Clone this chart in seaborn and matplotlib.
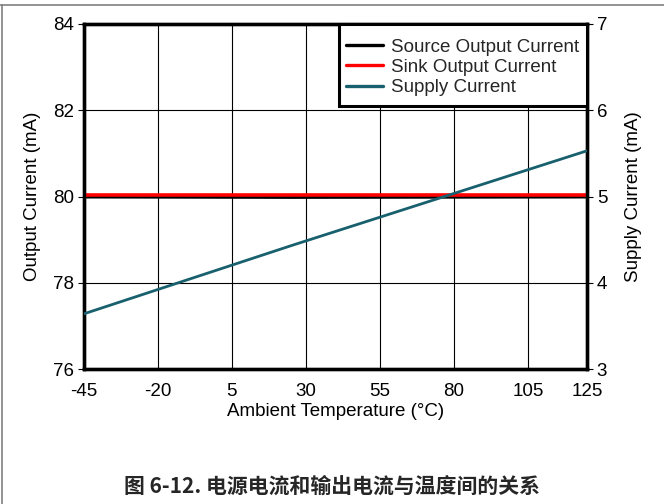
import numpy as np
import pandas as pd
import matplotlib
matplotlib.use("Agg")
import matplotlib.pyplot as plt
from matplotlib.lines import Line2D
from matplotlib.patches import Rectangle
import seaborn as sns

# Ambient temperature sweep (°C)
temperature = [-45, 25, 125]
# Output currents (mA), left axis
source_current = [79.99, 79.98, 79.99]
sink_current = [80.03, 80.03, 80.03]
# Supply current (mA), right axis
supply_current = [3.64, 4.43, 5.53]

x_ticks = [-45, -20, 5, 30, 55, 80, 105, 125]
left_ticks = [76, 78, 80, 82, 84]
right_ticks = [3, 4, 5, 6, 7]

sns.set_theme(style="white")
plt.rcParams["font.family"] = ["Liberation Sans", "DejaVu Sans"]
plt.rcParams["axes.unicode_minus"] = False

fig = plt.figure(figsize=(6.64, 5.04), dpi=100)
ax = fig.add_axes([84 / 664, 1 - 369 / 504, (587 - 84) / 664, (369 - 24) / 504])
ax2 = ax.twinx()

df = pd.DataFrame({
    "T": temperature,
    "Source Output Current": source_current,
    "Sink Output Current": sink_current,
    "Supply Current": supply_current,
})

sns.lineplot(data=df, x="T", y="Source Output Current", ax=ax, color="black",
             lw=2.2, label="Source Output Current", legend=False, zorder=3)
sns.lineplot(data=df, x="T", y="Sink Output Current", ax=ax, color="#ff0000",
             lw=2.6, label="Sink Output Current", legend=False, zorder=4)
sns.lineplot(data=df, x="T", y="Supply Current", ax=ax2, color="#19606f",
             lw=2.0, label="Supply Current", legend=False, zorder=3)

ax.set_xlim(-45, 125)
ax.set_ylim(76, 84)
ax2.set_ylim(3, 7)
ax.set_xticks(x_ticks)
ax.set_yticks(left_ticks)
ax2.set_yticks(right_ticks)

ax.grid(True, color="black", lw=0.8)
ax2.grid(False)

fs = 13.5
ax.tick_params(axis="x", length=0, labelsize=fs, pad=10, colors="black")
ax.tick_params(axis="y", length=4, width=0.8, labelsize=fs, pad=3, direction="out", colors="black", left=True)
ax2.tick_params(axis="y", length=4, width=0.8, labelsize=fs, pad=3, direction="out", colors="black", right=True)

for a in (ax, ax2):
    for s in a.spines.values():
        s.set_visible(True)
        s.set_color("black")
        s.set_linewidth(2.4)

ax.set_xlabel("Ambient Temperature (°C)", fontsize=fs, labelpad=2, color="black")
ax.set_ylabel("Output Current (mA)", fontsize=fs, labelpad=9, color="black")
ax2.set_ylabel("Supply Current (mA)", fontsize=fs, labelpad=13, color="black")

# legend box anchored to the upper-right corner of the plot
box_x0, box_y0, box_w, box_h = 0.507, 0.762, 0.493, 0.238
ax2.add_patch(Rectangle((box_x0, box_y0), box_w, box_h, transform=ax2.transAxes,
                        facecolor="white", edgecolor="black", lw=2.2, zorder=5,
                        clip_on=False))

handles = [Line2D([], [], color="black", lw=2.4),
           Line2D([], [], color="#ff0000", lw=2.4),
           Line2D([], [], color="#19606f", lw=2.4)]
labels = ["Source Output Current", "Sink Output Current", "Supply Current"]
leg = ax2.legend(handles, labels, loc="center",
                 bbox_to_anchor=(box_x0 + box_w / 2, box_y0 + box_h / 2 - 0.007),
                 fontsize=fs, frameon=False, borderaxespad=0, handlelength=1.97,
                 handletextpad=0.43, labelspacing=0.16, borderpad=0)
leg.set_zorder(6)

# page frame lines
fig.add_artist(Line2D([0, 1], [1 - 5 / 504, 1 - 5 / 504], transform=fig.transFigure,
                      color="#808080", lw=1.2))
fig.add_artist(Line2D([1.5 / 664, 1.5 / 664], [0, 1 - 5 / 504], transform=fig.transFigure,
                      color="#808080", lw=1.2))

fig.text(0.5, 1 - 486 / 504, "图 6-12. 电源电流和输出电流与温度间的关系",
         ha="center", va="center", fontsize=15, fontweight="bold",
         family=["Noto Sans CJK SC", "DejaVu Sans"])

fig.savefig("out.png", dpi=100)
